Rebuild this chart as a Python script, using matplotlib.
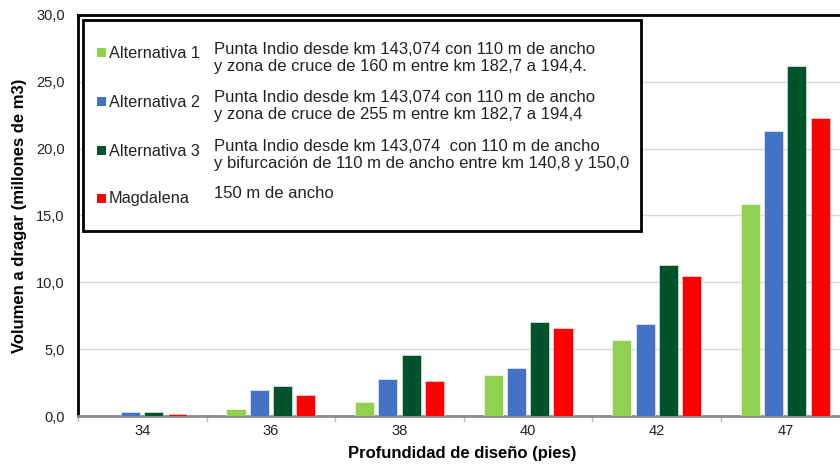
import matplotlib
matplotlib.use("Agg")
import matplotlib.pyplot as plt
from matplotlib.patches import Rectangle
import numpy as np

plt.rcParams['font.family'] = ['Liberation Sans', 'DejaVu Sans']

# Design depths (feet) and dredging volumes (millions of m3)
depths = ["34", "36", "38", "40", "42", "47"]
series_names = ["Alternativa 1", "Alternativa 2", "Alternativa 3", "Magdalena"]
alt1 = [0.0, 0.53, 1.03, 3.05, 5.67, 15.87]
alt2 = [0.28, 1.95, 2.75, 3.58, 6.85, 21.34]
alt3 = [0.33, 2.23, 4.55, 7.02, 11.30, 26.16]
magdalena = [0.15, 1.58, 2.60, 6.55, 10.47, 22.29]
descriptions = [
    "Punta Indio desde km 143,074 con 110 m de ancho\ny zona de cruce de 160 m entre km 182,7 a 194,4.",
    "Punta Indio desde km 143,074 con 110 m de ancho\ny zona de cruce de 255 m entre km 182,7 a 194,4",
    "Punta Indio desde km 143,074  con 110 m de ancho\ny bifurcación de 110 m de ancho entre km 140,8 y 150,0",
    "150 m de ancho",
]
colors = ["#92D050", "#4472C4", "#00522A", "#FF0000"]

W, H = 840, 469
fig = plt.figure(figsize=(W / 100, H / 100), dpi=100)

def fx(px):
    return px / W

def fy(py):
    return 1 - py / H

ax_left, ax_top, ax_bottom = 78, 15, 416
cat_w = 128.6
ax = fig.add_axes([fx(ax_left), fy(ax_bottom), 6 * cat_w / W, (ax_bottom - ax_top) / H])

x = np.arange(len(depths))
step = 0.181
bw = 0.148
for i, (vals, c) in enumerate(zip([alt1, alt2, alt3, magdalena], colors)):
    ax.bar(x + (i - 1.5) * step, vals, width=bw, color=c,
           edgecolor=(1, 1, 1, 0.6), linewidth=0.6, zorder=3)

ax.set_xlim(-0.5, 5.5)
ax.set_ylim(0, 30)
ax.set_yticks(np.arange(0, 31, 5))
ax.set_yticklabels([f"{v:.1f}".replace(".", ",") for v in np.arange(0, 31, 5)],
                   fontsize=10.5, color="#222222")
ax.set_xticks(x)
ax.set_xticklabels(depths, fontsize=10.5, color="#222222")
ax.set_xticks(np.arange(-0.5, 5.6, 1), minor=True)
ax.tick_params(axis="x", which="major", length=0, pad=6)
ax.tick_params(axis="x", which="minor", length=4, color="#C0C0C0", width=1)
ax.tick_params(axis="y", length=0, pad=9.5)

ax.grid(axis="y", color="#D9D9D9", linewidth=1, zorder=0)
ax.set_axisbelow(True)

for side in ["left", "top"]:
    ax.spines[side].set_color("black")
    ax.spines[side].set_linewidth(2)
ax.spines["bottom"].set_color("#8C8C8C")
ax.spines["bottom"].set_linewidth(2)
ax.spines["right"].set_visible(False)

fig.text(fx(20), fy(216), "Volumen a dragar (millones de m3)", rotation=90,
         ha="center", va="center", fontsize=12, fontweight="bold")
fig.text(fx(462), fy(453), "Profundidad de diseño (pies)",
         ha="center", va="center", fontsize=12, fontweight="bold")

# Legend box with series descriptions
box_l, box_t, box_r, box_b = 83, 20, 641, 231
fig.patches.append(Rectangle((fx(box_l), fy(box_b)), fx(box_r - box_l), (box_b - box_t) / H,
                             transform=fig.transFigure, facecolor="white",
                             edgecolor="black", linewidth=2, zorder=5))
name_y = [53, 102, 151, 199]
desc_y = [58, 106, 155, 194]
for name, desc, c, ny, dy in zip(series_names, descriptions, colors, name_y, desc_y):
    fig.patches.append(Rectangle((fx(97), fy(ny + 4.5)), fx(9), 9 / H,
                                 transform=fig.transFigure, facecolor=c,
                                 edgecolor="none", zorder=6))
    fig.text(fx(109), fy(ny), name, ha="left", va="center", fontsize=11.7,
             color="#222222", zorder=7)
    fig.text(fx(214), fy(dy), desc, ha="left", va="center", fontsize=12,
             color="#222222", linespacing=1.2, zorder=7)

fig.savefig("out.png", dpi=100)
